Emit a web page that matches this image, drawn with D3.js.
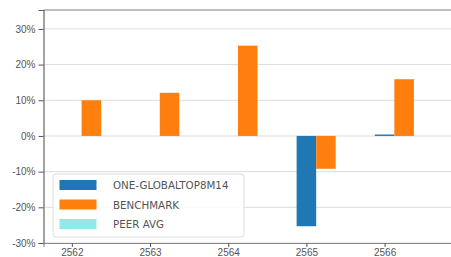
<!DOCTYPE html>
<html lang="en">
<head>
  <meta charset="UTF-8" />
  <title>Yearly returns</title>
  <script src="https://d3js.org/d3.v7.min.js"></script>
  <style>
    body {
      margin: 0;
      background: #fff;
      font-family: 'DejaVu Sans', sans-serif;
    }
    svg { display: block; }
    .tick text { fill: #555; font-size: 10px; }
    .legend text { fill: #555; font-size: 10.3px; }
  </style>
</head>
<body>
  <svg width="451" height="257"></svg>
  <script>
    const years = ["2562", "2563", "2564", "2565", "2566"];
    const seriesNames = ["ONE-GLOBALTOP8M14", "BENCHMARK", "PEER AVG"];
    const fund = [0, 0, 0, -25.3, 0.4];
    const benchmark = [10.0, 12.1, 25.3, -9.2, 15.9];
    const peer = [0, 0, 0, 0, 0];
    const colors = ["#1f77b4", "#ff7f0e", "#91e9e9"];
    const yTicks = [-30, -20, -10, 0, 10, 20, 30];

    const margin = { top: 10, right: -1, bottom: 14, left: 43.5 },
          width = 451 - margin.left - margin.right,
          height = 257 - margin.top - margin.bottom;

    const svg = d3.select("svg");
    const g = svg.append("g")
      .attr("transform", `translate(${margin.left},${margin.top})`);

    const barW = 0.25;
    const x = d3.scaleLinear()
      .domain([-0.3625, 4 + 0.8625])
      .range([0, width]);

    const y = d3.scaleLinear()
      .domain([-30, 35.3])
      .range([height, 0]);

    // gridlines
    g.append("g")
      .selectAll("line")
      .data(yTicks)
      .enter()
      .append("line")
      .attr("x1", 0)
      .attr("x2", width)
      .attr("y1", d => y(d))
      .attr("y2", d => y(d))
      .attr("stroke", "#dcdcdc")
      .attr("stroke-width", 1);

    const series = [fund, benchmark, peer];
    series.forEach((vals, s) => {
      g.append("g")
        .selectAll("rect")
        .data(vals)
        .enter()
        .append("rect")
        .attr("x", (d, i) => x(i + s * barW - barW / 2))
        .attr("width", x(barW) - x(0))
        .attr("y", d => y(Math.max(0, d)))
        .attr("height", d => Math.abs(y(d) - y(0)))
        .attr("fill", colors[s]);
    });

    // top spine
    g.append("line")
      .attr("x1", 0).attr("x2", width)
      .attr("y1", 0).attr("y2", 0)
      .attr("stroke", "#aaa")
      .attr("stroke-width", 1.5);

    const yAxis = g.append("g")
      .call(d3.axisLeft(y).tickValues(yTicks).tickFormat(d => d + "%").tickSize(5).tickPadding(3));
    yAxis.select(".domain").attr("stroke", "#666").attr("stroke-width", 1.2);
    yAxis.selectAll(".tick line").attr("stroke", "#555");

    const xAxis = g.append("g")
      .attr("transform", `translate(0,${height})`)
      .call(d3.axisBottom(x).tickValues(d3.range(years.length)).tickFormat(i => years[i]).tickSize(4).tickPadding(2));
    xAxis.select(".domain").attr("stroke", "#888").attr("stroke-width", 1.2);
    xAxis.selectAll(".tick line").attr("stroke", "#555");

    // legend
    const legend = svg.append("g").attr("class", "legend")
      .attr("transform", "translate(53,174)");
    legend.append("rect")
      .attr("width", 191)
      .attr("height", 63)
      .attr("rx", 3)
      .attr("fill", "rgba(255,255,255,0.85)")
      .attr("stroke", "#ddd");
    seriesNames.forEach((name, i) => {
      const row = legend.append("g").attr("transform", `translate(0,${11 + i * 19.5})`);
      row.append("rect")
        .attr("x", 6.5)
        .attr("y", -5)
        .attr("width", 37)
        .attr("height", 10)
        .attr("fill", colors[i]);
      row.append("text")
        .attr("x", 60)
        .attr("y", 4)
        .text(name);
    });
  </script>
</body>
</html>
